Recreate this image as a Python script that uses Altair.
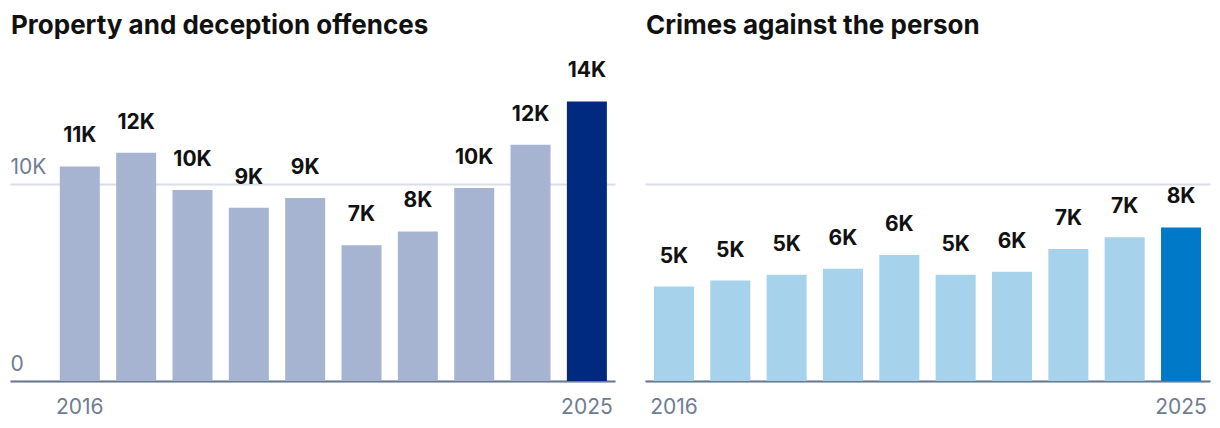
import altair as alt
import pandas as pd

years = [2016, 2017, 2018, 2019, 2020, 2021, 2022, 2023, 2024, 2025]
property_values = [10900, 11600, 9700, 8800, 9300, 6900, 7600, 9800, 12000, 14200]
property_labels = ["11K", "12K", "10K", "9K", "9K", "7K", "8K", "10K", "12K", "14K"]
person_values = [4800, 5100, 5400, 5700, 6400, 5400, 5550, 6700, 7300, 7800]
person_labels = ["5K", "5K", "5K", "6K", "6K", "5K", "6K", "7K", "7K", "8K"]
titles = ["Property and deception offences", "Crimes against the person"]
y_ticks = [0, 10000]

FONT = "Inter"
Y_DOMAIN = [0, 16000]
HEIGHT = 315


def panel(values, labels, title, light, dark, width, pad_outer, align, show_y):
    df = pd.DataFrame({"year": years, "value": values, "label": labels})
    x = alt.X(
        "year:O",
        scale=alt.Scale(paddingInner=0.29, paddingOuter=pad_outer, align=align),
        axis=alt.Axis(
            title=None,
            ticks=False,
            labelAngle=0,
            labelPadding=15,
            labelFontSize=21,
            labelColor="#6E7D92",
            labelFont=FONT,
            domainColor="#6B7A8F",
            domainWidth=2,
            labelExpr="datum.value == 2016 || datum.value == 2025 ? datum.label : ''",
        ),
    )
    if show_y:
        yaxis = alt.Axis(
            title=None,
            values=y_ticks,
            ticks=False,
            domain=False,
            grid=True,
            gridColor="#D8DDE6",
            gridWidth=2,
            labelAlign="left",
            labelBaseline="bottom",
            labelPadding=0,
            labelOffset=-7,
            labelFontSize=21,
            labelColor="#6E7D92",
            labelFont=FONT,
            labelExpr="datum.value == 0 ? '0' : upper(format(datum.value, '~s'))",
        )
    else:
        yaxis = alt.Axis(
            title=None,
            values=y_ticks,
            ticks=False,
            domain=False,
            labels=False,
            grid=True,
            gridColor="#D8DDE6",
            gridWidth=2,
        )
    y = alt.Y("value:Q", scale=alt.Scale(domain=Y_DOMAIN), axis=yaxis)
    base = alt.Chart(df)
    bars = base.mark_bar().encode(
        x=x,
        y=y,
        color=alt.condition("datum.year == 2025", alt.value(dark), alt.value(light)),
    )
    text = base.mark_text(
        font=FONT, fontSize=21, fontWeight="bold", color="#111111",
        baseline="alphabetic", dy=-24,
    ).encode(x=alt.X("year:O"), y=alt.Y("value:Q"), text="label:N")
    title_df = pd.DataFrame({"t": [title]})
    title_mark = alt.Chart(title_df).mark_text(
        font=FONT, fontSize=26, fontWeight="bold", color="#111111",
        align="left", baseline="alphabetic",
    ).encode(x=alt.value(1), y=alt.value(-32), text="t:N")
    return alt.layer(bars, text, title_mark).properties(width=width, height=HEIGHT)


left = panel(property_values, property_labels, titles[0], "#A7B4D1", "#002A80",
             605, 0.514, 0.86, True)
right = panel(person_values, person_labels, titles[1], "#A7D2EB", "#007AC8",
              565, 0.159, 0.5, False)

chart = alt.hconcat(left, right, spacing=30).configure_view(stroke=None).properties(
    padding={"left": 2, "top": 5, "right": 2, "bottom": 2}
)

chart.save("out.html", embed_options={"renderer": "svg", "actions": False})
